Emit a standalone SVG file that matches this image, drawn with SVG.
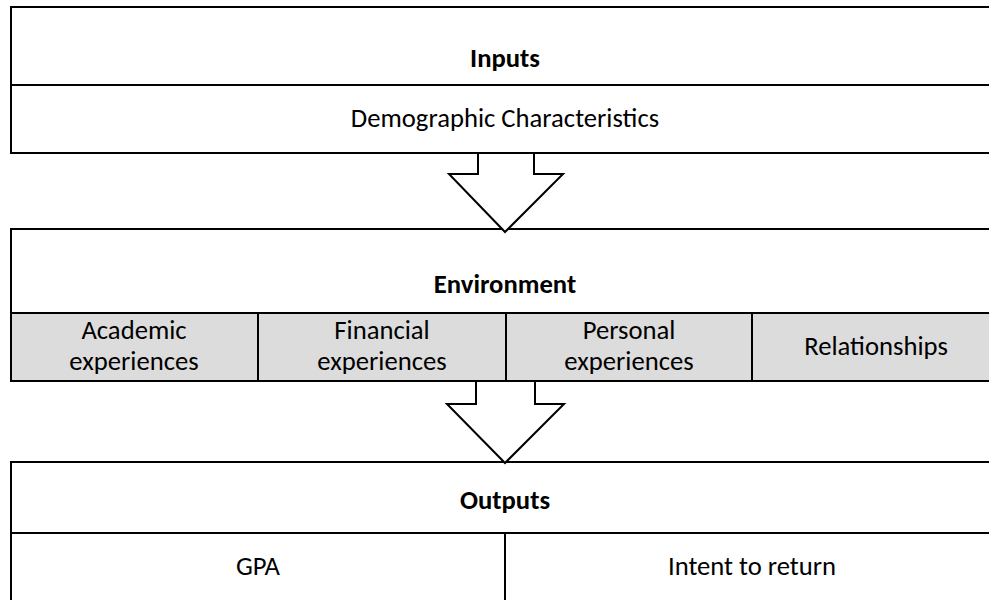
<svg xmlns="http://www.w3.org/2000/svg" width="989" height="600" viewBox="0 0 989 600">
<style>
.box{fill:#fff;stroke:#000;stroke-width:2}
.cell{fill:#dcdcdc;stroke:#000;stroke-width:2}
.ln{stroke:#000;stroke-width:2;fill:none}
.arrow{fill:#fff;stroke:#000;stroke-width:2;stroke-linejoin:miter}
text{font-family:Carlito,"Open Sans",sans-serif;font-size:26.67px;fill:#000;text-anchor:middle}
.b{font-weight:bold}
</style>
<rect width="989" height="600" fill="#fff"/>
<g id="inputs">
<rect class="box" x="11" y="7" width="990" height="146"/>
<line class="ln" x1="11" y1="85" x2="995" y2="85"/>
<text class="b" x="505" y="67">Inputs</text>
<text x="505" y="127">Demographic Characteristics</text>
</g>
<g id="environment">
<rect class="box" x="11" y="229" width="990" height="152"/>
<rect class="cell" x="11" y="313" width="990" height="68"/>
<line class="ln" x1="258" y1="313" x2="258" y2="381"/>
<line class="ln" x1="506" y1="313" x2="506" y2="381"/>
<line class="ln" x1="752" y1="313" x2="752" y2="381"/>
<text class="b" x="505" y="293">Environment</text>
<text x="134" y="339">Academic</text>
<text x="134" y="370">experiences</text>
<text x="382" y="339">Financial</text>
<text x="382" y="370">experiences</text>
<text x="629" y="339">Personal</text>
<text x="629" y="370">experiences</text>
<text x="876" y="355">Relationships</text>
</g>
<g id="outputs">
<rect class="box" x="11" y="462" width="990" height="150"/>
<line class="ln" x1="11" y1="533" x2="995" y2="533"/>
<line class="ln" x1="505" y1="533" x2="505" y2="600"/>
<text class="b" x="505" y="509">Outputs</text>
<text x="258" y="575">GPA</text>
<text x="752" y="575">Intent to return</text>
</g>
<g id="connectors">
<polygon class="arrow" points="478,153 534,153 534,174 563,174 505,232 449,174 478,174"/>
<polygon class="arrow" points="476,381 535,381 535,404 564,404 505,463 447,404 476,404"/>
</g>
</svg>
